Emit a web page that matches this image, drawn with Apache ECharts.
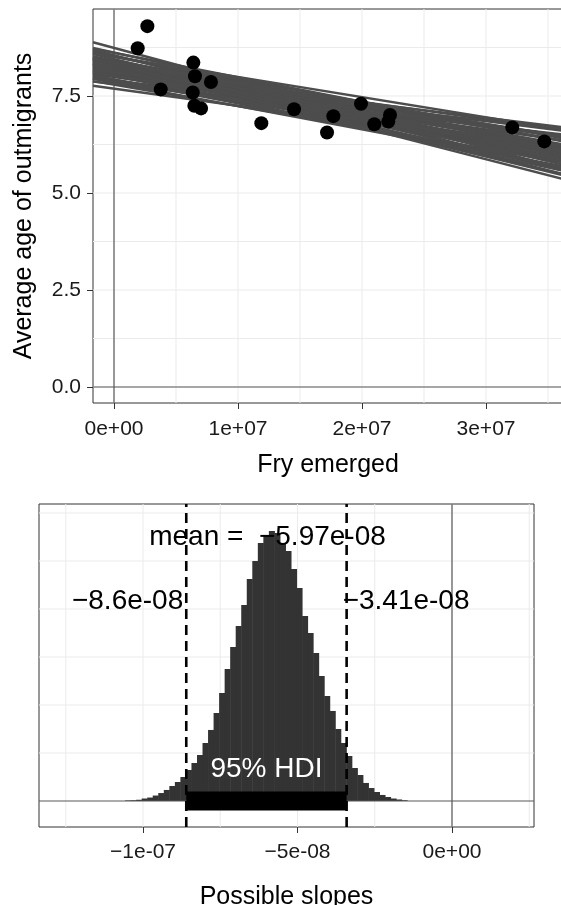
<!DOCTYPE html>
<html>
<head>
<meta charset="utf-8">
<title>Outmigrant age vs fry emerged</title>
<script src="https://cdn.jsdelivr.net/npm/echarts@6/dist/echarts.min.js"></script>
<style>
  html, body { margin: 0; padding: 0; background: #fff; }
  #chart { width: 561px; height: 905px; }
</style>
</head>
<body>
<div id="chart"></div>
<script>
// observed years: fry emerged vs average age of outmigrants
var fryEmerged = [1910000, 2690000, 3770000, 6350000, 6400000, 6480000, 6530000, 7020000, 7820000,
  11880000, 14520000, 17180000, 17690000, 19920000, 20990000, 22120000, 22260000, 32120000, 34700000];
var avgAge = [8.73, 9.30, 7.67, 7.59, 8.36, 7.25, 8.01, 7.18, 7.86,
  6.80, 7.16, 6.56, 6.98, 7.30, 6.77, 6.84, 7.01, 6.69, 6.33];

// posterior draws of the regression line
var lineIntercepts = [8.22, 8.21, 8.22, 8.36, 8.07, 8.28, 8.16, 8.53, 7.88, 8.45, 7.99, 8.53, 7.91, 8.05,
  8.39, 8.51, 7.93, 8.34, 8.11, 8.32, 8.13, 8.25, 8.20, 8.61, 7.79, 8.74, 7.81, 8.62, 7.69, 7.89, 8.55,
  8.12, 8.41, 8.01, 8.29, 8.35, 8.17, 8.01, 8.40, 8.04, 8.11, 8.28, 8.51, 7.84, 8.02, 8.37, 8.32, 8.37,
  7.87, 8.26, 8.33];
var lineSlopes = [-6.0e-8, -5.5e-8, -6.5e-8, -6.2e-8, -5.8e-8, -5.0e-8, -7.0e-8, -6.6e-8, -5.2e-8, -7.5e-8,
  -4.5e-8, -7.2e-8, -4.8e-8, -4.0e-8, -8.0e-8, -5.8e-8, -6.2e-8, -6.8e-8, -5.3e-8, -5.7e-8, -6.4e-8,
  -4.5e-8, -7.5e-8, -6.3e-8, -5.5e-8, -8.6e-8, -3.6e-8, -7.0e-8, -4.4e-8, -3.4e-8, -8.2e-8, -5.7e-8,
  -6.1e-8, -5.9e-8, -6.3e-8, -7.2e-8, -4.7e-8, -5.2e-8, -5.4e-8, -6.8e-8, -3.9e-8, -7.8e-8, -5.2e-8,
  -6.0e-8, -4.3e-8, -6.6e-8, -7.4e-8, -5.6e-8, -5.0e-8, -6.4e-8, -8.2e-8];

// posterior of the slope (histogram, 50 bins)
var slopeBinStart = -1.058e-7;
var slopeBinWidth = 1.79e-9;
var slopeCounts = [6, 8, 13, 26, 36, 57, 83, 115, 156, 198, 250, 323, 396, 479, 604, 740, 917, 1125, 1375,
  1604, 1823, 2042, 2313, 2500, 2688, 2771, 2813, 2792, 2688, 2604, 2417, 2219, 1927, 1750, 1542, 1302,
  1094, 938, 750, 604, 469, 344, 271, 188, 135, 94, 63, 42, 26, 16, 8];
var slopeMean = -5.97e-8;
var hdiLow = -8.6e-8;
var hdiHigh = -3.41e-8;

// ticks and grid breaks
var fryTicks = [0, 1e7, 2e7, 3e7];
var fryTickLabels = ['0e+00', '1e+07', '2e+07', '3e+07'];
var fryBreaks = [0, 5e6, 1e7, 1.5e7, 2e7, 2.5e7, 3e7, 3.5e7];
var ageTicks = [0, 2.5, 5, 7.5];
var ageTickLabels = ['0.0', '2.5', '5.0', '7.5'];
var ageBreaks = [0, 1.25, 2.5, 3.75, 5, 6.25, 7.5, 8.75];
var slopeTicks = [-1e-7, -5e-8, 0];
var slopeTickLabels = ['\u22121e-07', '\u22125e-08', '0e+00'];
var slopeBreaks = [-1.25e-7, -1e-7, -7.5e-8, -5e-8, -2.5e-8, 0, 2.5e-8];
var countBreaks = [500, 1000, 1500, 2000, 2500, 3000];

var FONT = 'Liberation Sans, Arial, Helvetica, sans-serif';
var fryMin = -1.694e6, fryMax = 3.621e7;
var ageMin = -0.412, ageMax = 9.742;
var slopeMin = -1.3366e-7, slopeMax = 2.654e-8;
var countMin = -270.8, countMax = 3093.75;

function rSci(v) {
  var parts = Math.abs(v).toExponential().split('e');
  var ex = parseInt(parts[1], 10);
  var e = (ex < 0 ? '-' : '+') + (Math.abs(ex) < 10 ? '0' : '') + Math.abs(ex);
  return (v < 0 ? '\u2212' : '') + parts[0] + 'e' + e;
}

function tickLabeller(ticks, labels) {
  return function (v) {
    for (var i = 0; i < ticks.length; i++) {
      if (Math.abs(v - ticks[i]) <= Math.abs(ticks[i]) * 1e-6) return labels[i];
    }
    return '';
  };
}

// straight rules across a panel, drawn as plain line series
function rule(panel, pts, style, z) {
  return {
    type: 'line', xAxisIndex: panel, yAxisIndex: panel, z: z, silent: true,
    symbol: 'none', lineStyle: style, data: pts
  };
}
function vRules(panel, xs, lo, hi, style, z) {
  return xs.map(function (v) { return rule(panel, [[v, lo], [v, hi]], style, z); });
}
function hRules(panel, ys, lo, hi, style, z) {
  return ys.map(function (v) { return rule(panel, [[lo, v], [hi, v]], style, z); });
}

var gridStyle = { color: '#ebebeb', width: 1 };
var zeroStyle = { color: '#595959', width: 1.2 };

var series = [];

// top panel
series = series.concat(vRules(0, fryBreaks, ageMin, ageMax, gridStyle, 0));
series = series.concat(hRules(0, ageBreaks, fryMin, fryMax, gridStyle, 0));
series = series.concat(vRules(0, [0], ageMin, ageMax, zeroStyle, 1));
series = series.concat(hRules(0, [0], fryMin, fryMax, zeroStyle, 1));

lineIntercepts.forEach(function (a, i) {
  var b = lineSlopes[i];
  series.push(rule(0, [[fryMin, a + b * fryMin], [fryMax, a + b * fryMax]],
    { color: '#4d4d4d', width: 2.4 }, 2));
});

series.push({
  type: 'scatter', xAxisIndex: 0, yAxisIndex: 0, z: 3,
  symbolSize: 14,
  itemStyle: { color: '#000', opacity: 1 },
  data: fryEmerged.map(function (x, i) { return [x, avgAge[i]]; })
});

// bottom panel
series = series.concat(vRules(1, slopeBreaks, countMin, countMax, gridStyle, 0));
series = series.concat(hRules(1, countBreaks, slopeMin, slopeMax, gridStyle, 0));

series.push({
  type: 'custom', xAxisIndex: 1, yAxisIndex: 1, z: 2, silent: true,
  encode: { x: [0, 1], y: 2 },
  data: slopeCounts.map(function (c, i) {
    return [slopeBinStart + i * slopeBinWidth, slopeBinStart + (i + 1) * slopeBinWidth, c];
  }),
  renderItem: function (params, api) {
    var p0 = api.coord([api.value(0), 0]);
    var p1 = api.coord([api.value(1), api.value(2)]);
    return {
      type: 'rect',
      shape: { x: p0[0], y: p1[1], width: p1[0] - p0[0] + 0.5, height: p0[1] - p1[1] },
      style: { fill: '#333333' }
    };
  }
});

series = series.concat(vRules(1, [0], countMin, countMax, zeroStyle, 3));
series = series.concat(hRules(1, [0], slopeMin, slopeMax, zeroStyle, 3));

series.push(rule(1, [[hdiLow, 0], [hdiHigh, 0]], { color: '#000', width: 19, cap: 'butt' }, 4));

series = series.concat(vRules(1, [hdiLow, hdiHigh], countMin, countMax,
  { color: '#000', width: 2.6, type: [10, 6] }, 5));

var annoLabel = { show: true, position: 'inside', fontSize: 28, fontFamily: FONT, color: '#000',
  verticalAlign: 'middle', textBorderWidth: 0, textBorderColor: 'transparent', textShadowBlur: 0,
  opacity: 1 };
series.push({
  type: 'scatter', xAxisIndex: 1, yAxisIndex: 1, z: 6, silent: true,
  symbolSize: 0,
  itemStyle: { color: '#000', opacity: 1 },
  emphasis: { disabled: true },
  data: [
    { value: [slopeMean, 2750], label: Object.assign({}, annoLabel, { formatter: 'mean =  ' + rSci(slopeMean), align: 'center' }) },
    { value: [hdiLow, 2083], label: Object.assign({}, annoLabel, { formatter: rSci(hdiLow), align: 'right', offset: [-3, 0] }) },
    { value: [hdiHigh, 2083], label: Object.assign({}, annoLabel, { formatter: rSci(hdiHigh), align: 'left', offset: [-4, 0] }) },
    { value: [(hdiLow + hdiHigh) / 2, 333], label: Object.assign({}, annoLabel, { formatter: '95% HDI', color: '#fff', align: 'center' }) }
  ]
});

var tickLabelStyle = { color: '#1a1a1a', fontSize: 21, fontFamily: FONT };
var titleStyle = { color: '#000', fontSize: 25, fontFamily: FONT };
var tickStyle = { color: '#333', width: 1 };

var chart = echarts.init(document.getElementById('chart'), null, { renderer: 'canvas' });
chart.setOption({
  animation: false,
  backgroundColor: '#fff',
  grid: [
    { left: 93, top: 9, right: -2, bottom: 502, show: true, borderColor: '#333', borderWidth: 1,
      backgroundColor: 'transparent', containLabel: false, outerBoundsMode: 'none' },
    { left: 39, top: 504, right: 27, bottom: 78, show: true, borderColor: '#333', borderWidth: 1,
      backgroundColor: 'transparent', containLabel: false, outerBoundsMode: 'none' }
  ],
  xAxis: [
    {
      gridIndex: 0, type: 'value', min: fryMin, max: fryMax,
      axisLine: { show: false, onZero: false },
      axisTick: { show: true, customValues: fryTicks, length: 6, lineStyle: tickStyle },
      axisLabel: Object.assign({ customValues: fryTicks, margin: 16, formatter: tickLabeller(fryTicks, fryTickLabels) }, tickLabelStyle),
      splitLine: { show: false },
      name: 'Fry emerged', nameLocation: 'middle', nameGap: 50, nameTextStyle: titleStyle
    },
    {
      gridIndex: 1, type: 'value', min: slopeMin, max: slopeMax,
      axisLine: { show: false, onZero: false },
      axisTick: { show: true, customValues: slopeTicks, length: 6, lineStyle: tickStyle },
      axisLabel: Object.assign({ customValues: slopeTicks, margin: 15, formatter: tickLabeller(slopeTicks, slopeTickLabels) }, tickLabelStyle),
      splitLine: { show: false },
      name: 'Possible slopes', nameLocation: 'middle', nameGap: 58, nameTextStyle: titleStyle
    }
  ],
  yAxis: [
    {
      gridIndex: 0, type: 'value', min: ageMin, max: ageMax,
      axisLine: { show: false, onZero: false },
      axisTick: { show: true, customValues: ageTicks, length: 6, lineStyle: tickStyle },
      axisLabel: Object.assign({ customValues: ageTicks, margin: 12, formatter: tickLabeller(ageTicks, ageTickLabels) }, tickLabelStyle),
      splitLine: { show: false },
      name: 'Average age of outmigrants', nameLocation: 'middle', nameGap: 56, nameRotate: 90,
      nameTextStyle: titleStyle
    },
    {
      gridIndex: 1, type: 'value', min: countMin, max: countMax, show: false,
      splitLine: { show: false }
    }
  ],
  series: series
});
</script>
</body>
</html>
